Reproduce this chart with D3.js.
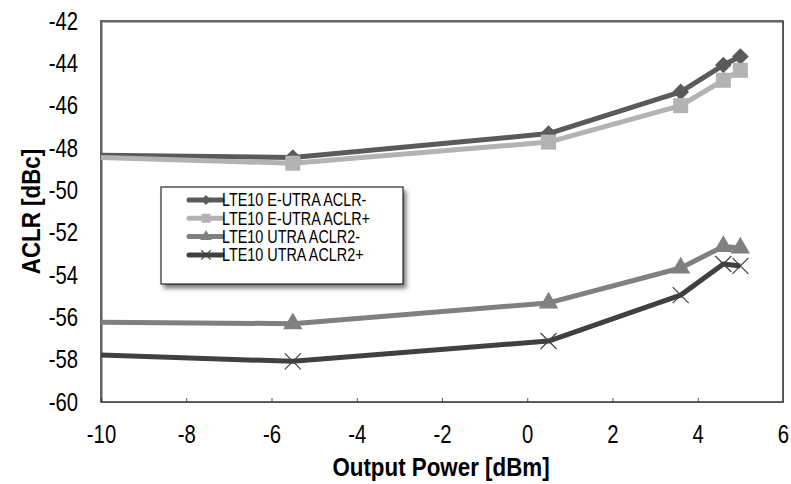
<!DOCTYPE html>
<html>
<head>
<meta charset="utf-8" />
<title>ACLR vs Output Power</title>
<style>
body { margin: 0; background: #fff; }
text { font-family: "Liberation Sans", Arial, sans-serif; }
.tick text { font-size: 26px; fill: #000; }
.axis-title { font-size: 26px; font-weight: bold; }
.legend text { font-size: 18px; }
</style>
</head>
<body>
<div id="chart"></div>
<script src="https://cdn.jsdelivr.net/npm/d3@7"></script>
<script>
// x values (dBm); first point lies left of the axis and is clipped
var outputPower = [-10.5, -5.5, 0.5, 3.6, 4.6, 5.0];

var seriesNames = ['LTE10 E-UTRA ACLR-', 'LTE10 E-UTRA ACLR+', 'LTE10 UTRA ACLR2-', 'LTE10 UTRA ACLR2+'];
var eutraMinus = [-48.33, -48.45, -47.32, -45.35, -44.08, -43.68];
var eutraPlus = [-48.42, -48.72, -47.72, -46.0, -44.8, -44.33];
var utra2Minus = [-56.22, -56.3, -55.32, -53.67, -52.65, -52.72];
var utra2Plus = [-57.75, -58.08, -57.12, -54.95, -53.48, -53.57];

var xTicks = [-10, -8, -6, -4, -2, 0, 2, 4, 6];
var yTicks = [-42, -44, -46, -48, -50, -52, -54, -56, -58, -60];

var width = 791, height = 484;
var margin = { top: 21, right: 8, bottom: 82, left: 101 };
var plotW = width - margin.left - margin.right;
var plotH = height - margin.top - margin.bottom;
var narrow = 0.78; // horizontal squeeze to mimic a condensed face

var colors = ['#5a5a5a', '#b3b3b3', '#808080', '#404040'];
var markers = ['diamond', 'square', 'triangle', 'cross'];
var allValues = [eutraMinus, eutraPlus, utra2Minus, utra2Plus];

var series = seriesNames.map(function(name, i) {
	return {
		name: name,
		color: colors[i],
		marker: markers[i],
		points: outputPower.map(function(x, j) { return { x: x, y: allValues[i][j] }; })
	};
});

var x = d3.scaleLinear().domain([-10, 6]).range([0, plotW]);
var y = d3.scaleLinear().domain([-60, -42]).range([plotH, 0]);

var svg = d3.select('#chart').append('svg')
	.attr('width', width).attr('height', height);

var defs = svg.append('defs');
defs.append('clipPath').attr('id', 'clip')
	.append('rect').attr('width', plotW).attr('height', plotH);
var shadow = defs.append('filter').attr('id', 'shadow')
	.attr('x', '-10%').attr('y', '-10%').attr('width', '130%').attr('height', '140%');
shadow.append('feGaussianBlur').attr('in', 'SourceAlpha').attr('stdDeviation', 2);
shadow.append('feOffset').attr('dx', 3).attr('dy', 4).attr('result', 'blur');
shadow.append('feComponentTransfer').append('feFuncA').attr('type', 'linear').attr('slope', 0.5);
var merge = shadow.append('feMerge');
merge.append('feMergeNode');
merge.append('feMergeNode').attr('in', 'SourceGraphic');

var g = svg.append('g').attr('transform', 'translate(' + margin.left + ',' + margin.top + ')');

// axes
var xAxis = d3.axisBottom(x).tickValues(xTicks).tickSize(-4).tickPadding(23)
	.tickFormat(d3.format('d'));
var yAxis = d3.axisLeft(y).tickValues(yTicks).tickSize(0).tickPadding(23)
	.tickFormat(d3.format('d'));

g.append('g').attr('class', 'x axis').attr('transform', 'translate(0,' + plotH + ')').call(xAxis);
g.append('g').attr('class', 'y axis').call(yAxis);
g.selectAll('.axis .domain').remove();
g.selectAll('.x.axis .tick line').attr('stroke', '#555');
g.selectAll('.tick text')
	.text(function(d) { return d < 0 ? '-' + Math.abs(d) : d; })
	.attr('x', function() { return (+d3.select(this).attr('x') || 0) / narrow; })
	.attr('transform', 'scale(' + narrow + ',1)');

// frame
g.append('rect').attr('x', 1.5).attr('y', 1.5).attr('width', plotW - 1).attr('height', plotH - 1)
	.attr('fill', 'none').attr('stroke', '#aaa').attr('stroke-width', 1);
g.append('rect').attr('width', plotW).attr('height', plotH)
	.attr('fill', 'none').attr('stroke', '#333').attr('stroke-width', 1.5);

var line = d3.line().x(function(d) { return x(d.x); }).y(function(d) { return y(d.y); });

var plot = g.append('g').attr('clip-path', 'url(#clip)');

function drawMarker(sel, type, color, size) {
	if (type === 'diamond') {
		sel.append('path').attr('d', d3.symbol().type(d3.symbolDiamond2).size(size * size * 0.9)())
			.attr('fill', color);
	} else if (type === 'square') {
		sel.append('rect').attr('x', -size / 2).attr('y', -size / 2)
			.attr('width', size).attr('height', size).attr('fill', color);
	} else if (type === 'triangle') {
		sel.append('path').attr('d', d3.symbol().type(d3.symbolTriangle).size(size * size * 0.5)())
			.attr('fill', color);
	} else {
		var h = size / 2;
		sel.append('path').attr('d', 'M' + -h + ',' + -h + 'L' + h + ',' + h + 'M' + -h + ',' + h + 'L' + h + ',' + -h)
			.attr('stroke', color).attr('stroke-width', 1.2).attr('fill', 'none');
	}
}

var markerSizes = { diamond: 14, square: 15, triangle: 18, cross: 16 };

series.forEach(function(s) {
	plot.append('path').datum(s.points)
		.attr('d', line).attr('fill', 'none')
		.attr('stroke', s.color).attr('stroke-width', 5).attr('stroke-linejoin', 'round');
	var m = plot.selectAll(null).data(s.points).enter().append('g')
		.attr('transform', function(d) { return 'translate(' + x(d.x) + ',' + y(d.y) + ')'; });
	m.each(function() { drawMarker(d3.select(this), s.marker, s.color, markerSizes[s.marker]); });
});

// axis titles
svg.append('text').attr('class', 'axis-title')
	.attr('transform', 'translate(' + (margin.left + plotW / 2 - 1) + ',476) scale(0.86,1)')
	.attr('text-anchor', 'middle').text('Output Power [dBm]');
svg.append('text').attr('class', 'axis-title')
	.attr('transform', 'translate(40,' + (margin.top + plotH / 2) + ') rotate(-90) scale(0.86,1)')
	.attr('text-anchor', 'middle').text('ACLR [dBc]');

// legend
var legend = svg.append('g').attr('class', 'legend').attr('transform', 'translate(161,187)');
legend.append('rect').attr('width', 242).attr('height', 97)
	.attr('fill', '#fff').attr('stroke', '#000').attr('stroke-width', 1)
	.attr('filter', 'url(#shadow)');
var item = legend.selectAll('.item').data(series).enter().append('g').attr('class', 'item')
	.attr('transform', function(d, i) { return 'translate(0,' + (13 + i * 18.3) + ')'; });
item.append('line').attr('x1', 28).attr('x2', 61).attr('y1', 0).attr('y2', 0)
	.attr('stroke', function(d) { return d.color; }).attr('stroke-width', 5)
	.attr('stroke-linecap', 'round');
item.each(function(d) {
	var mg = d3.select(this).append('g').attr('transform', 'translate(45,0)');
	drawMarker(mg, d.marker, d.color, markerSizes[d.marker] * 0.6);
});
item.append('text').attr('transform', 'translate(61,0) scale(0.8,1)')
	.attr('dy', '0.36em')
	.text(function(d) { return d.name; });
</script>
</body>
</html>
